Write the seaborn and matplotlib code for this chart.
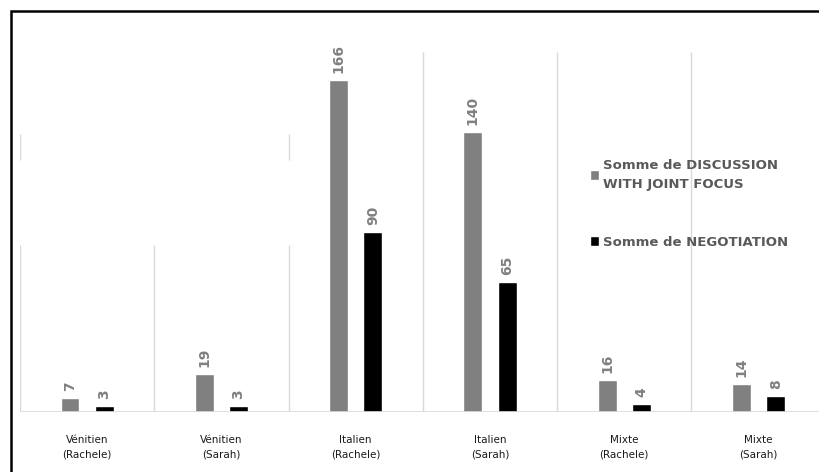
import pandas as pd
import seaborn as sns
import matplotlib.pyplot as plt
from matplotlib.patches import Rectangle

# Données
groupes = ["Vénitien\n(Rachele)", "Vénitien\n(Sarah)", "Italien\n(Rachele)",
           "Italien\n(Sarah)", "Mixte\n(Rachele)", "Mixte\n(Sarah)"]
discussion = [7, 19, 166, 140, 16, 14]
negotiation = [3, 3, 90, 65, 4, 8]
series = ["Somme de DISCUSSION\nWITH JOINT FOCUS", "Somme de NEGOTIATION"]

df = pd.DataFrame({
    'groupe': groupes * 2,
    'valeur': discussion + negotiation,
    'serie': [series[0]] * len(groupes) + [series[1]] * len(groupes),
})

sns.set_style("white")
fig = plt.figure(figsize=(8.19, 4.72), dpi=100)
ax = fig.add_axes([20 / 819, 1 - 411.5 / 472, 1 - 20 / 819, (411.5 - 52) / 472])

sns.barplot(data=df, x='groupe', y='valeur', hue='serie',
            palette=['#808080', '#000000'], width=0.51, gap=0.45,
            saturation=1, ax=ax)

# étiquettes de données verticales
for cont in ax.containers:
    ax.bar_label(cont, rotation=90, padding=5, color='#808080',
                 fontsize=10, fontweight='bold')

ax.set_xlim(-0.5, 5.45)
ax.set_ylim(0, 180)
ax.set_xlabel('')
ax.set_ylabel('')
ax.set_yticks([])

# lignes verticales de séparation (partiellement masquées à gauche comme dans l'original)
gc = '#d9d9d9'
ax.vlines([-0.5, 0.5, 1.5], 0, 83.5, color=gc, lw=1, zorder=0)
ax.vlines([-0.5, 1.5], 126, 138.7, color=gc, lw=1, zorder=0)
ax.vlines([2.5, 3.5, 4.5], 0, 180, color=gc, lw=1, zorder=0)
ax.axhline(0, color=gc, lw=1.2, zorder=3)

for s in ax.spines.values():
    s.set_visible(False)

ax.tick_params(axis='x', length=0, pad=17, labelsize=7.5, labelcolor='#1a1a1a')
for t in ax.get_xticklabels():
    t.set_linespacing(1.6)

handles, labels = ax.get_legend_handles_labels()
leg = ax.legend(handles, labels, loc='upper left', bbox_to_anchor=(0.698, 0.735),
                frameon=False, handlelength=0.75, handleheight=0.75,
                handletextpad=0.3, labelspacing=3.4, fontsize=9.5,
                labelcolor='#595959')
for t in leg.get_texts():
    t.set_fontweight('bold')
    t.set_linespacing(1.55)

# cadre noir de la capture
fig.add_artist(Rectangle((11 / 819, -0.05), 1.0, 1 - 11 / 472 + 0.05,
                         transform=fig.transFigure, fill=False,
                         edgecolor='black', lw=1.8))

fig.savefig('out.png', dpi=100)
